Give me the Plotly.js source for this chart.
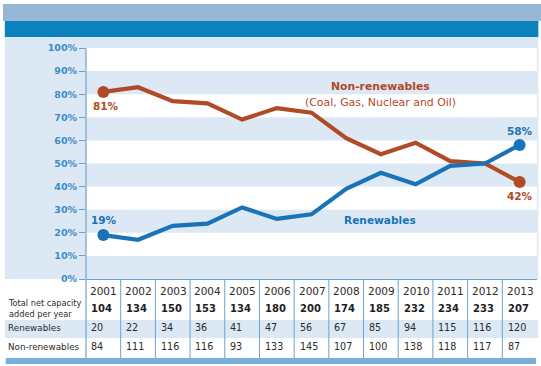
<!DOCTYPE html>
<html>
<head>
<meta charset="utf-8">
<script src="https://cdn.plot.ly/plotly-3.0.1.min.js"></script>
<style>
html,body{margin:0;padding:0;background:#fff;}
#chart{width:541px;height:366px;}
</style>
</head>
<body>
<div id="chart"></div>
<script>
// ---- data ----
var years = [2001, 2002, 2003, 2004, 2005, 2006, 2007, 2008, 2009, 2010, 2011, 2012, 2013];
var nonRenewablesPct = [81, 83, 77, 76, 69, 74, 72, 61, 54, 59, 51, 50, 42];
var renewablesPct = [19, 17, 23, 24, 31, 26, 28, 39, 46, 41, 49, 50, 58];
var totalAdded = [104, 134, 150, 153, 134, 180, 200, 174, 185, 232, 234, 233, 207];
var renewablesAdded = [20, 22, 34, 36, 41, 47, 56, 67, 85, 94, 115, 116, 120];
var nonRenewablesAdded = [84, 111, 116, 116, 93, 133, 145, 107, 100, 138, 118, 117, 87];
var yTickVals = [0, 10, 20, 30, 40, 50, 60, 70, 80, 90, 100];
var yTickText = ['0%', '10%', '20%', '30%', '40%', '50%', '60%', '70%', '80%', '90%', '100%'];
var rowLabels = ['Total net capacity<br>added per year', 'Renewables', 'Non-renewables'];

// ---- style ----
var BROWN = '#b04a27';
var BLUE = '#1a73b6';
var FRAME = '#dce8f4';
var AXIS = '#6aa3d3';
var TICK = '#3b8cc5';
var TXT = '#2b2b2b';

function endSizes(arr) { return arr.map(function (v, i) { return (i === 0 || i === arr.length - 1) ? 12 : 0; }); }

var traces = [
  { x: years, y: nonRenewablesPct, type: 'scatter', mode: 'lines+markers',
    line: { color: BROWN, width: 4.2 }, marker: { color: BROWN, size: endSizes(years), opacity: 1, line: { width: 0 } },
    hoverinfo: 'skip', showlegend: false, cliponaxis: false },
  { x: years, y: renewablesPct, type: 'scatter', mode: 'lines+markers',
    line: { color: BLUE, width: 4.2 }, marker: { color: BLUE, size: endSizes(years), opacity: 1, line: { width: 0 } },
    hoverinfo: 'skip', showlegend: false, cliponaxis: false }
];

var shapes = [];
// frame background
shapes.push({ type: 'rect', xref: 'paper', yref: 'paper', x0: -0.18, x1: 1.003, y0: 0, y1: 1.048, fillcolor: FRAME, line: { width: 0 }, layer: 'below' });
// top bands
shapes.push({ type: 'rect', xref: 'paper', yref: 'paper', x0: -0.184, x1: 1.01, y0: 1.117, y1: 1.19, fillcolor: '#95b6d4', line: { width: 0 }, layer: 'below' });
shapes.push({ type: 'rect', xref: 'paper', yref: 'paper', x0: -0.18, x1: 1.003, y0: 1.048, y1: 1.117, fillcolor: '#0a82bd', line: { width: 0 }, layer: 'below' });
// white stripes in the plot area
for (var b = 10; b < 100; b += 20) {
  shapes.push({ type: 'rect', xref: 'paper', yref: 'y', x0: 0, x1: 1, y0: b, y1: b + 10, fillcolor: '#ffffff', line: { width: 0 }, layer: 'below' });
}
// table: renewables row band
shapes.push({ type: 'rect', xref: 'paper', yref: 'paper', x0: -0.18, x1: 1.003, y0: -0.255, y1: -0.177, fillcolor: FRAME, line: { width: 0 }, layer: 'below' });
// bottom bar
shapes.push({ type: 'rect', xref: 'paper', yref: 'paper', x0: -0.178, x1: 0.998, y0: -0.368, y1: -0.342, fillcolor: '#7aaedb', line: { width: 0 }, layer: 'below' });
// column separators
years.forEach(function (yr, i) {
  if (i === 0) return;
  shapes.push({ type: 'line', xref: 'x', yref: 'paper', x0: yr - 0.5, x1: yr - 0.5, y0: 0, y1: -0.342, line: { color: AXIS, width: 1 } });
});
// y axis line extended through table
shapes.push({ type: 'line', xref: 'paper', yref: 'paper', x0: 0, x1: 0, y0: 1, y1: -0.342, line: { color: AXIS, width: 1.2 } });

var annotations = [];
function txt(o) { o.showarrow = false; if (!o.yanchor) o.yanchor = 'middle'; annotations.push(o); }

// line labels
txt({ xref: 'paper', yref: 'paper', x: 0.652, y: 0.835, xanchor: 'center', text: '<b>Non-renewables</b>', font: { family: 'DejaVu Sans', size: 10.8, color: BROWN } });
txt({ xref: 'paper', yref: 'paper', x: 0.652, y: 0.765, xanchor: 'center', text: '(Coal, Gas, Nuclear and Oil)', font: { family: 'DejaVu Sans', size: 10.9, color: BROWN } });
txt({ xref: 'paper', yref: 'paper', x: 0.652, y: 0.255, xanchor: 'center', text: '<b>Renewables</b>', font: { family: 'DejaVu Sans', size: 10.6, color: BLUE } });

var last = years.length - 1;
txt({ x: years[0], y: nonRenewablesPct[0], yshift: -14, xshift: 3, text: '<b>' + nonRenewablesPct[0] + '%</b>', font: { family: 'DejaVu Sans', size: 10.5, color: BROWN } });
txt({ x: years[0], y: renewablesPct[0], yshift: 15, xshift: 1, text: '<b>' + renewablesPct[0] + '%</b>', font: { family: 'DejaVu Sans', size: 10.5, color: BLUE } });
txt({ x: years[last], y: renewablesPct[last], yshift: 14, text: '<b>' + renewablesPct[last] + '%</b>', font: { family: 'DejaVu Sans', size: 10.5, color: BLUE } });
txt({ x: years[last], y: nonRenewablesPct[last], yshift: -14, text: '<b>' + nonRenewablesPct[last] + '%</b>', font: { family: 'DejaVu Sans', size: 10.5, color: BROWN } });

// table
var rowY = [-0.05, -0.127, -0.212, -0.294];
years.forEach(function (yr, i) {
  txt({ x: yr, xref: 'x', yref: 'paper', y: rowY[0], xanchor: 'left', xshift: -15, text: String(yr), font: { family: 'DejaVu Sans', size: 10.5, color: TXT } });
  txt({ x: yr, xref: 'x', yref: 'paper', y: rowY[1], xanchor: 'left', xshift: -14, text: '<b>' + totalAdded[i] + '</b>', font: { family: 'DejaVu Sans', size: 10, color: '#1e1e1e' } });
  txt({ x: yr, xref: 'x', yref: 'paper', y: rowY[2], xanchor: 'left', xshift: -14, text: String(renewablesAdded[i]), font: { family: 'DejaVu Sans', size: 9.6, color: TXT } });
  txt({ x: yr, xref: 'x', yref: 'paper', y: rowY[3], xanchor: 'left', xshift: -14, text: String(nonRenewablesAdded[i]), font: { family: 'DejaVu Sans', size: 9.6, color: TXT } });
});
txt({ xref: 'paper', yref: 'paper', x: -0.178, y: rowY[1], xanchor: 'left', align: 'left', text: rowLabels[0], font: { family: 'DejaVu Sans', size: 8.2, color: TXT } });
txt({ xref: 'paper', yref: 'paper', x: -0.178, y: rowY[2], xanchor: 'left', text: rowLabels[1], font: { family: 'DejaVu Sans', size: 8.8, color: TXT } });
txt({ xref: 'paper', yref: 'paper', x: -0.178, y: rowY[3], xanchor: 'left', text: rowLabels[2], font: { family: 'DejaVu Sans', size: 8.8, color: TXT } });

var layout = {
  width: 541, height: 366,
  margin: { l: 86, r: 4, t: 48, b: 87 },
  paper_bgcolor: '#ffffff',
  plot_bgcolor: 'rgba(0,0,0,0)',
  showlegend: false,
  xaxis: { range: [2000.5, 2013.5], showgrid: false, zeroline: false, showticklabels: false,
           showline: true, linecolor: AXIS, linewidth: 1.2, ticks: '', fixedrange: true },
  yaxis: { range: [0, 100], tickvals: yTickVals, ticktext: yTickText, showgrid: false, zeroline: false,
           showline: false, ticks: 'outside', ticklen: 6, tickcolor: '#7a9cb8', tickwidth: 1,
           tickfont: { family: 'DejaVu Sans', size: 9.5, color: TICK, weight: 'bold' }, fixedrange: true },
  shapes: shapes,
  annotations: annotations
};

Plotly.newPlot('chart', traces, layout, { displayModeBar: false, staticPlot: true });
</script>
</body>
</html>
